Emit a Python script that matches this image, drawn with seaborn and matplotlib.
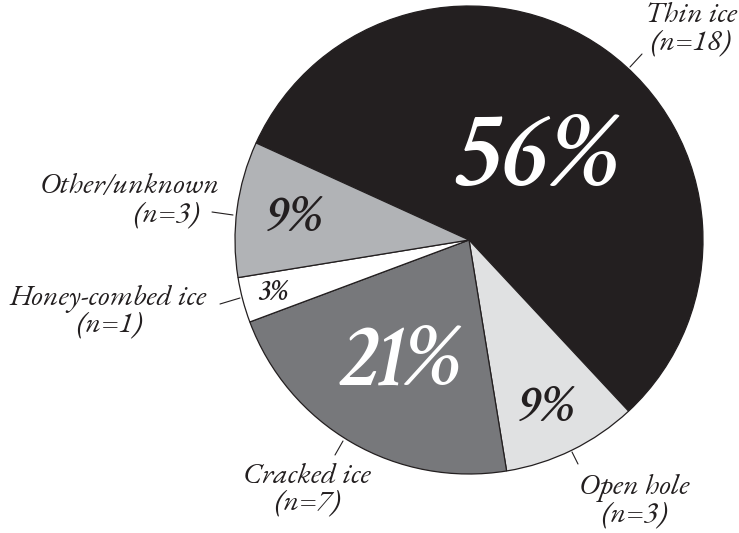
import matplotlib
matplotlib.use("Agg")
import matplotlib.pyplot as plt
from matplotlib import font_manager
import seaborn as sns

# Ice conditions at the break-through point
categories = ["Thin ice", "Open hole", "Cracked ice", "Honey-combed ice", "Other/unknown"]
counts = [18, 3, 7, 1, 3]
pct_labels = ["56%", "9%", "21%", "3%", "9%"]
colors = ["#231f20", "#e0e1e2", "#77787b", "#ffffff", "#b1b3b6"]
pct_colors = ["white", "#231f20", "white", "#231f20", "#231f20"]

sns.set_theme(style="white")


def face(files, family):
    """Return FontProperties for the first installed file name in `files`."""
    by_file = {f.fname.split("/")[-1]: f.fname for f in font_manager.fontManager.ttflist}
    for name in files:
        if name in by_file:
            return font_manager.FontProperties(fname=by_file[name])
    return font_manager.FontProperties(family=family, style="italic")


fp_label = face(["EBGaramond-Italic[wght].ttf", "CrimsonText-Italic.ttf",
                 "LiberationSerif-Italic.ttf"], "serif")
fp_pct = face(["CrimsonText-SemiBoldItalic.ttf", "CrimsonText-BoldItalic.ttf",
               "LiberationSerif-BoldItalic.ttf"], "serif")

W, H = 739, 533
fig = plt.figure(figsize=(W / 100, H / 100), dpi=100)
ax = fig.add_axes([0, 0, 1, 1])

cx, cy, r = 469, 240, 234
wedges, _ = ax.pie(
    counts,
    colors=colors,
    startangle=155.5,
    counterclock=False,
    center=(cx, H - cy),
    radius=r,
    wedgeprops=dict(edgecolor="#231f20", linewidth=0.9),
)

# percentage text inside each slice (pixel positions, y measured from top)
pct_pos = [(538, 160, 80), (547, 409, 39), (401, 363, 66), (273, 293, 21), (295, 219, 39)]
for txt, col, (x, y, fs) in zip(pct_labels, pct_colors, pct_pos):
    ax.text(x, H - y, txt, color=col, fontproperties=fp_pct, fontsize=fs,
            ha="center", va="center")

# outer category labels with the counts underneath
name_pos = [(691, 16), (634, 488), (307, 477), (108, 299), (130, 187)]
n_pos = [(690, 44), (634, 515), (307, 504), (109, 326), (166, 216)]
for name, n, (nx, ny), (mx, my) in zip(categories, counts, name_pos, n_pos):
    ax.text(nx, H - ny, name, color="#231f20", fontproperties=fp_label, fontsize=21.5,
            ha="center", va="center")
    ax.text(mx, H - my, f"(n={n})", color="#231f20", fontproperties=fp_label, fontsize=21.5,
            ha="center", va="center")

# leader ticks from labels to the rim
leaders = [((630, 67), (642, 54)), ((572, 452), (578, 464)), ((343, 441), (335, 455)),
           ((240, 298), (220, 304)), ((233, 215), (212, 212))]
for (x0, y0), (x1, y1) in leaders:
    ax.plot([x0, x1], [H - y0, H - y1], color="#231f20", lw=0.8)

ax.set_xlim(0, W)
ax.set_ylim(0, H)
ax.set_aspect("equal")
ax.axis("off")
fig.savefig("out.png", dpi=100, facecolor="white")
